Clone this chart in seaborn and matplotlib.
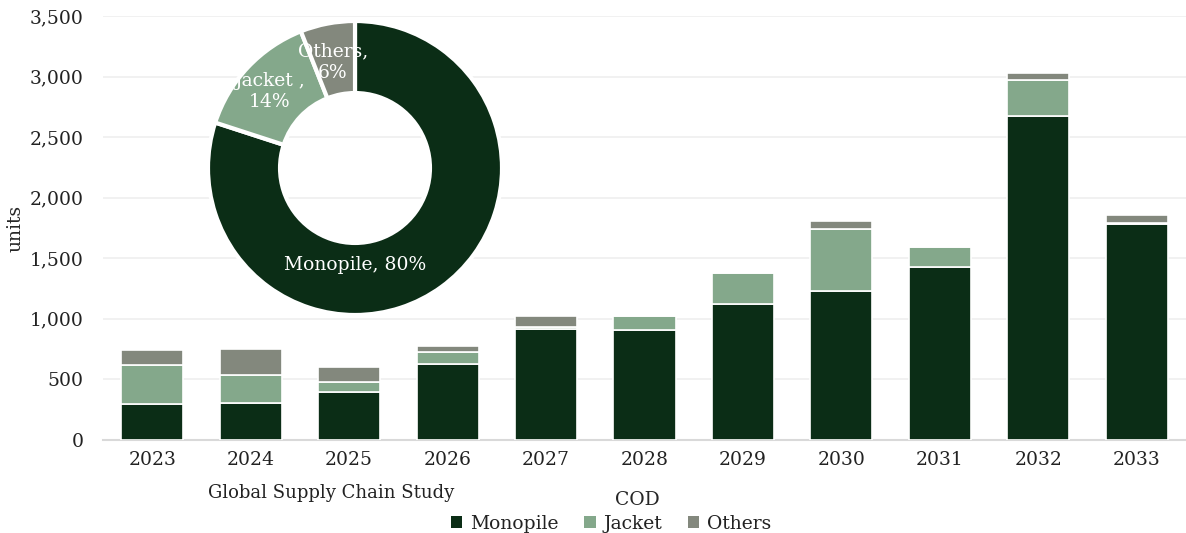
import matplotlib
matplotlib.use("Agg")
import matplotlib.pyplot as plt
import seaborn as sns
import numpy as np
import pandas as pd
from matplotlib.patches import Patch
from matplotlib.ticker import FuncFormatter

# ---- data ----
years = ["2023", "2024", "2025", "2026", "2027", "2028", "2029", "2030", "2031", "2032", "2033"]
monopile = [300, 305, 400, 625, 915, 905, 1120, 1230, 1430, 2675, 1780]
jacket = [320, 230, 75, 105, 15, 115, 255, 510, 165, 295, 10]
others = [120, 215, 125, 50, 90, 0, 0, 70, 0, 60, 65]
series_names = ["Monopile", "Jacket", "Others"]
pie_shares = [80, 14, 6]
pie_labels = ["Monopile, 80%", "Jacket ,\n14%", "Others,\n6%"]
yticks = [0, 500, 1000, 1500, 2000, 2500, 3000, 3500]

colors = ["#0B2D16", "#84A88B", "#83887D"]

sns.set_theme(style="white")
plt.rcParams["font.family"] = ["DejaVu Serif"]
plt.rcParams["text.color"] = "#222222"

W, H = 1186, 533
fig = plt.figure(figsize=(W / 100, H / 100), dpi=100)
ax = fig.add_axes([103 / W, (H - 440) / H, (1186 - 103) / W, (440 - 16) / H])

df = pd.DataFrame({"year": years, "Monopile": monopile, "Jacket": jacket, "Others": others})
bottoms = np.zeros(len(years))
for name, col in zip(series_names, colors):
    sns.barplot(data=df, x="year", y=name, color=col, bottom=bottoms, ax=ax,
                width=0.63, edgecolor="white", linewidth=1.2, saturation=1, zorder=3)
    bottoms = bottoms + df[name].values

ax.set_ylim(0, 3500)
ax.set_yticks(yticks)
ax.yaxis.set_major_formatter(FuncFormatter(lambda v, p: f"{int(v):,}"))
ax.grid(axis="y", color="#F0F0F0", linewidth=1.3, zorder=0)
ax.set_axisbelow(True)
for s in ["top", "right", "left"]:
    ax.spines[s].set_visible(False)
ax.spines["bottom"].set_color("#D9D9D9")
ax.spines["bottom"].set_linewidth(1.5)
ax.tick_params(axis="both", length=0, labelsize=13.5, colors="#222222")
ax.tick_params(axis="x", pad=8)
ax.tick_params(axis="y", pad=14)
ax.set_ylabel("units", fontsize=13.5, va="center", ha="center")
ax.yaxis.set_label_coords(-0.081, 0.5)
ax.set_xlabel("COD", fontsize=13.5, va="center", ha="center")
ax.xaxis.set_label_coords(0.493, -0.142)

fig.text(331 / W, 1 - 493 / H, "Global Supply Chain Study", ha="center", va="center", fontsize=13)

handles = [Patch(facecolor=c, edgecolor="none") for c in colors]
fig.legend(handles, series_names, loc="center", bbox_to_anchor=(611 / W, 1 - 524 / H), ncol=3,
           frameon=False, fontsize=13.5, handlelength=0.6, handleheight=0.6,
           handletextpad=0.4, columnspacing=1.4)

# ---- donut inset ----
R = 147
cx, cy = 355, 168
pax = fig.add_axes([(cx - R) / W, (H - cy - R) / H, 2 * R / W, 2 * R / H])
wedges, _ = pax.pie(pie_shares, colors=colors, startangle=90, counterclock=False,
                    radius=1, wedgeprops=dict(width=0.49, edgecolor="white", linewidth=3))
pax.set_xlim(-1, 1)
pax.set_ylim(-1, 1)
pax.set_aspect("equal")
pax.axis("off")
label_pos = [(0.0, -0.66), (-0.58, 0.52), (-0.15, 0.72)]
for lab, (x, y) in zip(pie_labels, label_pos):
    pax.text(x, y, lab, ha="center", va="center", color="white", fontsize=13.5, linespacing=1.25)

fig.savefig("out.png", dpi=100)
